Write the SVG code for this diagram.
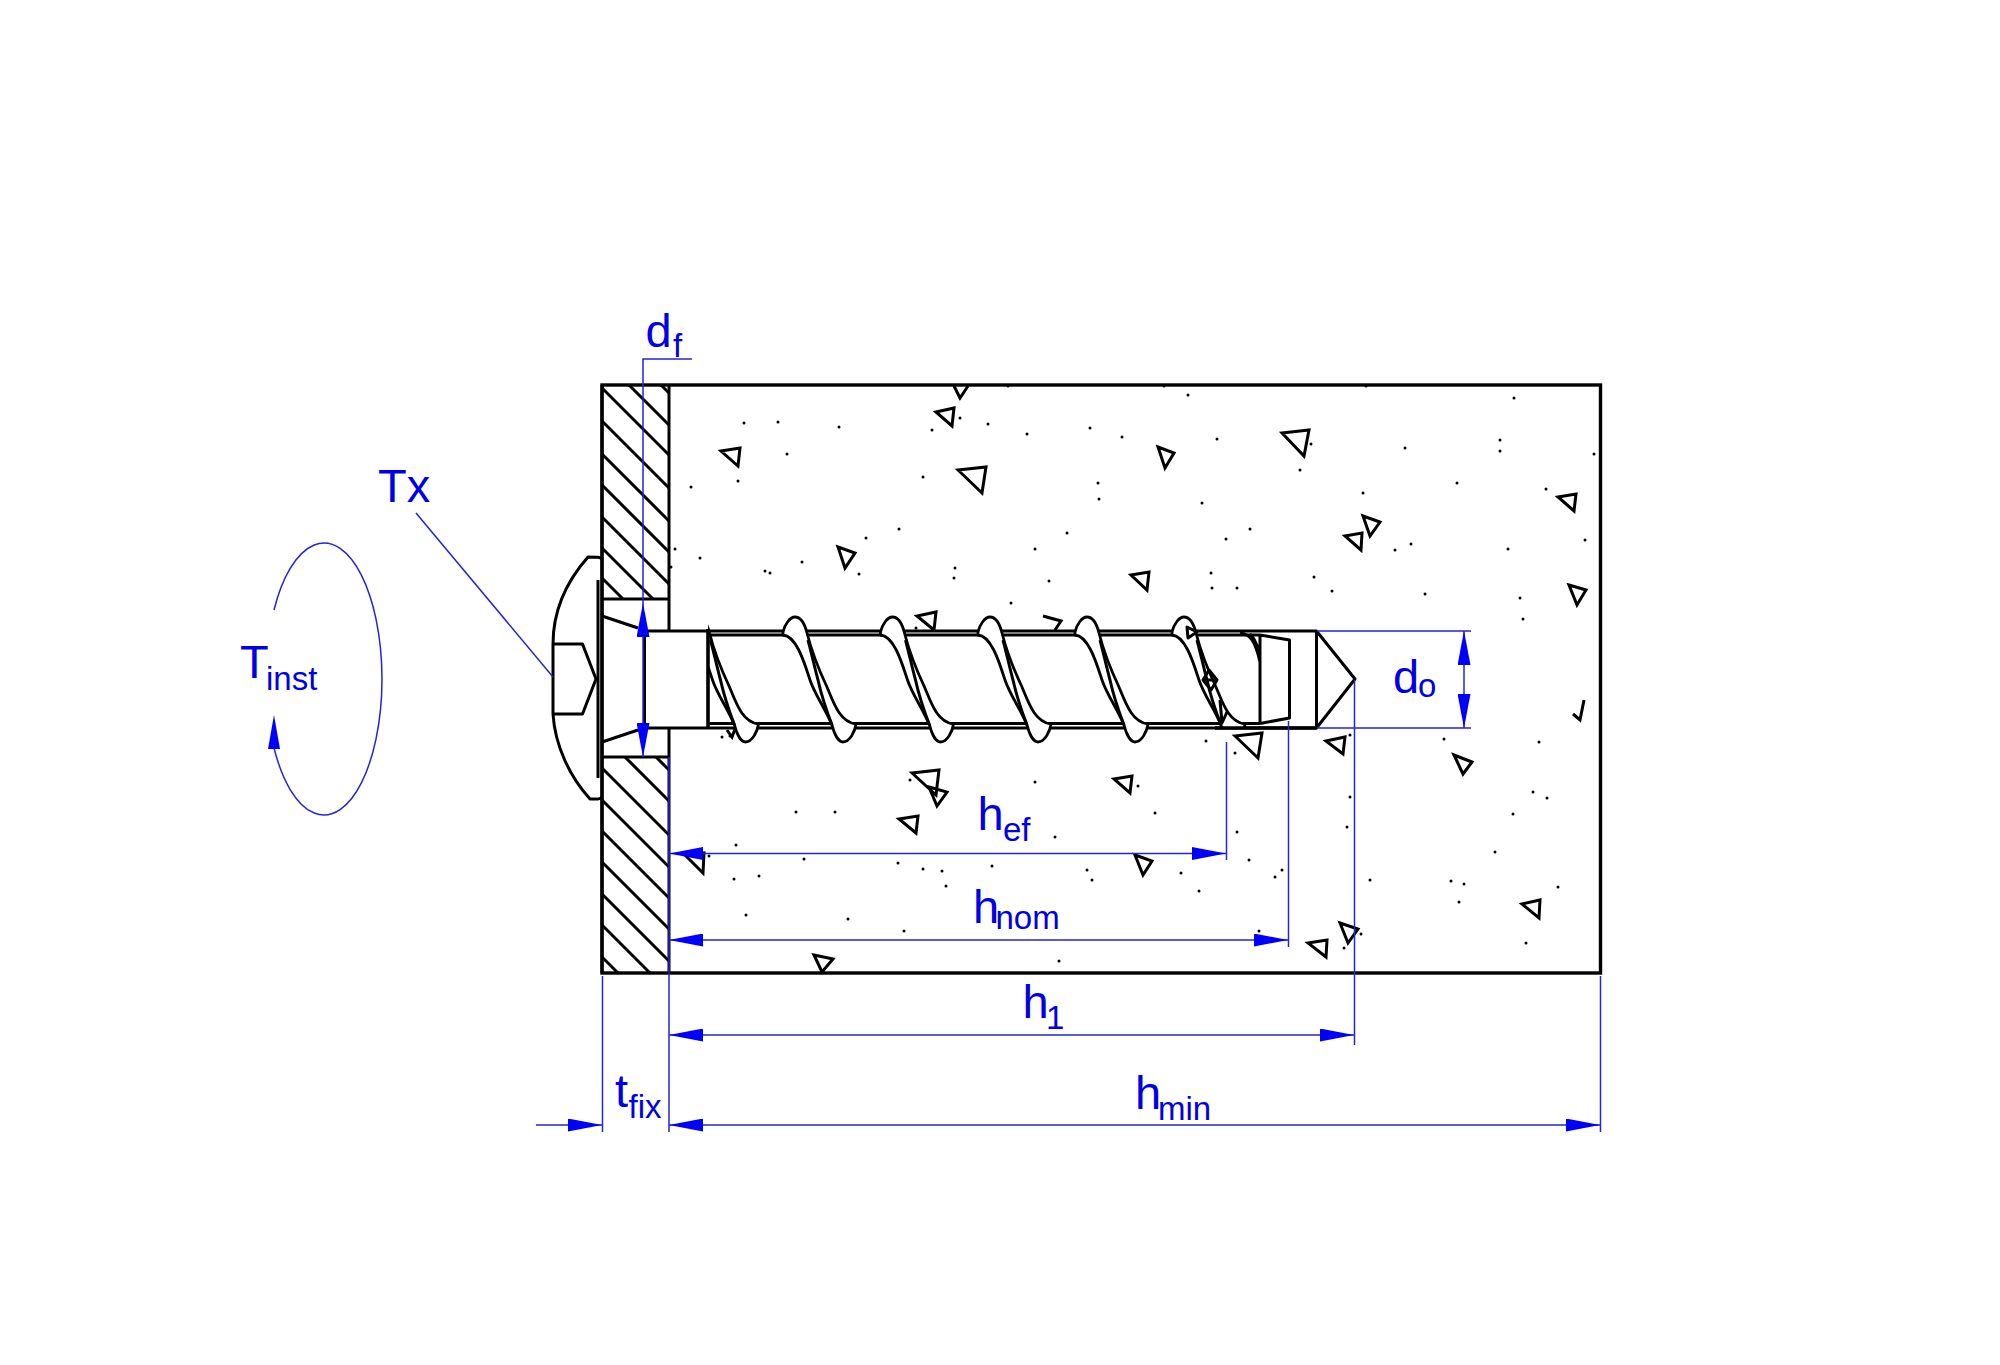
<svg xmlns="http://www.w3.org/2000/svg" xmlns:xlink="http://www.w3.org/1999/xlink" width="2000" height="1365" viewBox="0 0 2000 1365">
<style>
text{font-family:"Liberation Sans",Arial,sans-serif;fill:#0000e6;font-size:47px}
.sub{font-size:33px}
.k{fill:none;stroke:#000;stroke-width:3;stroke-linejoin:round}
.t{fill:none;stroke:#000;stroke-width:3;stroke-linejoin:miter}
.band{fill:#fff;stroke:#000;stroke-width:2.8;stroke-linejoin:round}
.thick{fill:none;stroke:#000;stroke-width:3.6}
.dots{fill:none;stroke:#000;stroke-width:3;stroke-linecap:round}
.d{fill:none;stroke:#2424d8;stroke-width:1.5}
.dm{marker-start:url(#arr);marker-end:url(#arr)}
.ar{fill:#0000ff}
</style>
<defs>
<marker id="arr" markerUnits="userSpaceOnUse" viewBox="0 0 34 13" refX="34" refY="6.500" markerWidth="34" markerHeight="13" orient="auto-start-reverse"><path class="ar" d="M0 0L34 6.500L0 13Z"/></marker>
<clipPath id="c1"><rect x="708" y="600" width="200" height="150"/></clipPath>
<clipPath id="c2"><rect x="1100" y="600" width="200" height="127"/></clipPath>
<g id="thread">
<path class="band" d="M783 632C785 624 790 617 795 617C801 617 805 625 807 633C810 645 818 668 827 687C834 704 840 722 856 724C855 731 850 742 843 742C838 742 834 733 832 725C825 708 815 695 810 680C805 665 797 636 783 635Z"/>
<path class="k" d="M808 640C812 655 814 665 818 680C822 698 827 712 832 725"/>
</g>
</defs>
<g id="concrete">
<rect class="t" x="602" y="385" width="998.5" height="588" style="stroke-width:3.4"/>
<path class="dots" d="M744 423h.01M778 422h.01M839 427h.01M960 418h.01M988 424h.01M932 430h.01M1027 434h.01M1090 428h.01M1122 437h.01M1217 439h.01M1311 444h.01M1405 448h.01M1500 440h.01M1500 451h.01M1594 454h.01M787 454h.01M738 481h.01M691 487h.01M923 477h.01M1098 483h.01M1099 499h.01M1202 503h.01M1300 470h.01M1363 493h.01M1457 483h.01M1546 489h.01M1188 395h.01M1514 398h.01M1008 386h.01M1164 386h.01M1366 386h.01M899 529h.01M866 538h.01M1067 533h.01M1035 549h.01M675 549h.01M700 558h.01M802 562h.01M765 571h.01M770 573h.01M859 574h.01M955 568h.01M954 578h.01M1049 581h.01M1011 603h.01M1211 573h.01M1212 588h.01M1237 588h.01M1314 577h.01M1332 591h.01M1425 594h.01M1250 529h.01M1226 539h.01M1395 550h.01M1411 544h.01M1508 549h.01M1585 540h.01M1520 598h.01M1523 619h.01M916 628h.01M796 812h.01M835 812h.01M910 780h.01M1035 782h.01M1138 786h.01M1155 813h.01M1055 837h.01M1237 832h.01M736 845h.01M709 856h.01M804 859h.01M898 863h.01M923 869h.01M942 871h.01M946 886h.01M992 866h.01M1087 870h.01M1092 880h.01M1181 873h.01M1199 891h.01M1249 860h.01M1282 870h.01M1275 877h.01M734 879h.01M759 876h.01M746 915h.01M848 919h.01M904 931h.01M1259 931h.01M1059 961h.01M1235 753h.01M1206 741h.01M1350 735h.01M1444 739h.01M1539 742h.01M1533 792h.01M1547 798h.01M1513 814h.01M1350 797h.01M1347 827h.01M1495 852h.01M1370 880h.01M1451 881h.01M1464 884h.01M1459 902h.01M1558 887h.01M1361 934h.01M1344 948h.01M1526 943h.01M722 737h.01M730 736h.01M671 567h.01"/>
<path class="t" d="M954 386L960 398L968 386M936 412L954 408L952 426ZM721 451L740 448L738 466ZM958 470L986 467L982 493ZM1158 447L1174 453L1165 468ZM1282 433L1309 430L1304 456ZM1558 497L1576 494L1574 511ZM1363 516L1380 522L1370 536ZM1345 536L1362 533L1361 550ZM838 547L855 553L845 568ZM1131 575L1149 572L1147 590ZM1569 585L1586 590L1577 605ZM934 630L917 616L936 612L934 630M1043 616L1061 621L1055 630M1235 736L1262 733L1258 758ZM1326 741L1345 737L1343 754ZM1454 755L1472 762L1463 774ZM1114 779L1132 776L1130 793ZM912 773L939 770L936 795ZM929 787L947 792L937 806ZM899 819L918 816L916 833ZM685 855L704 853L703 873ZM1135 855L1152 861L1143 875ZM814 955L833 959L822 972ZM1522 904L1540 900L1539 918ZM1340 923L1358 929L1348 943ZM1308 943L1327 940L1326 957ZM1584 700L1580 720L1573 714M727 730L732 737L735 729"/>
</g>
<g id="plate">
<path class="k" d="M669 385V631M669 728V973M602 385V973M602 599H669M602 757H669"/>
<path class="k" d="M661 385L669 393M629 385L669 425M602 388L669 455M602 421L669 488M602 454L669 521M602 485L669 552M602 517L669 584M602 548L653 599M602 578L623 599M656 757L669 770M625 757L669 801M602 768L669 835M602 800L669 867M602 831L669 898M602 862L669 929M602 894L669 961M602 925L650 973M602 957L618 973"/>
</g>
<g id="head">
<path class="k" d="M602 559C600 557 598 557 588 557C566 582 553 612 553 644V714C555 746 570 777 590 799H598C600 799 601 798 602 797"/>
<path class="k" d="M553 644H582.500L596 679L582.500 714H553"/>
<path class="k" d="M598 580V778"/>
<path class="k" d="M602 616L638 628M602 742L638 730"/>
</g>
<g id="screw">
<path class="k" d="M644.500 631H1316.500V728H644.500ZM708 635H1260M708 723.500H1260"/>
<g clip-path="url(#c1)"><use xlink:href="#thread" href="#thread" transform="translate(-97.500 0)"/></g>
<use xlink:href="#thread" href="#thread"/>
<use xlink:href="#thread" href="#thread" transform="translate(97.500 0)"/>
<use xlink:href="#thread" href="#thread" transform="translate(195 0)"/>
<use xlink:href="#thread" href="#thread" transform="translate(292 0)"/>
<g clip-path="url(#c2)"><use xlink:href="#thread" href="#thread" transform="translate(389 0)"/></g>
<path class="thick" d="M708 629V728M1215 728H1316.500"/>
<path class="k" d="M1187 627L1197 632L1188 638ZM1203 680L1209 670L1217 680L1211 690ZM1203 680H1217M1220 700L1222 723L1227 712"/>
<path class="k" d="M1260 635V723.500M1260 635L1289.500 640V718L1260 723.500M1240 633C1250 634 1255 640 1260 662M1250 634C1256 640 1258 648 1260 656"/>
<path class="k" d="M1316.500 631L1355 679L1316.500 728"/>
</g>
<g id="connectors">
<path class="d" d="M692 359H643V603"/>
<path class="d dm" d="M643 603V757"/>
<path class="d" d="M416 513L553 677"/>
<path class="d" d="M1317 631H1471M1317 728H1471"/>
<path class="d dm" d="M1464 631V728"/>
<path class="d" d="M1226.500 742V860"/>
<path class="d dm" d="M669 853.500H1226"/>
<path class="d" d="M1288.500 721V947"/>
<path class="d dm" d="M669 940H1288"/>
<path class="d" d="M1354.500 680V1045"/>
<path class="d dm" d="M669 1035H1354"/>
<path class="d" d="M669 757V1132M602.500 976V1132M1600.500 976V1132"/>
<path class="d" d="M536 1125H602" marker-end="url(#arr)"/>
<path class="d dm" d="M669 1125H1600"/>
<path class="d" d="M274 610A58 136 0 1 1 274 748"/>
<polygon class="ar" points="274,715 268,749 280,749"/>
</g>
<g id="labels">
<text x="645.500" y="347">d<tspan class="sub" x="673" y="357">f</tspan></text>
<text x="378" y="502">Tx</text>
<text x="240" y="677.500">T<tspan class="sub" x="266" y="689.500">inst</tspan></text>
<text x="1393" y="693">d<tspan class="sub" x="1418" y="697">o</tspan></text>
<text x="977.500" y="830">h<tspan class="sub" x="1003" y="841">ef</tspan></text>
<text x="973" y="923">h<tspan class="sub" x="995.500" y="929">nom</tspan></text>
<text x="1022.500" y="1018">h<tspan class="sub" x="1046" y="1029">1</tspan></text>
<text x="1135" y="1109">h<tspan class="sub" x="1158" y="1120">min</tspan></text>
<text x="615" y="1106.500">t<tspan class="sub" x="628.500" y="1118">fix</tspan></text>
</g>
</svg>
